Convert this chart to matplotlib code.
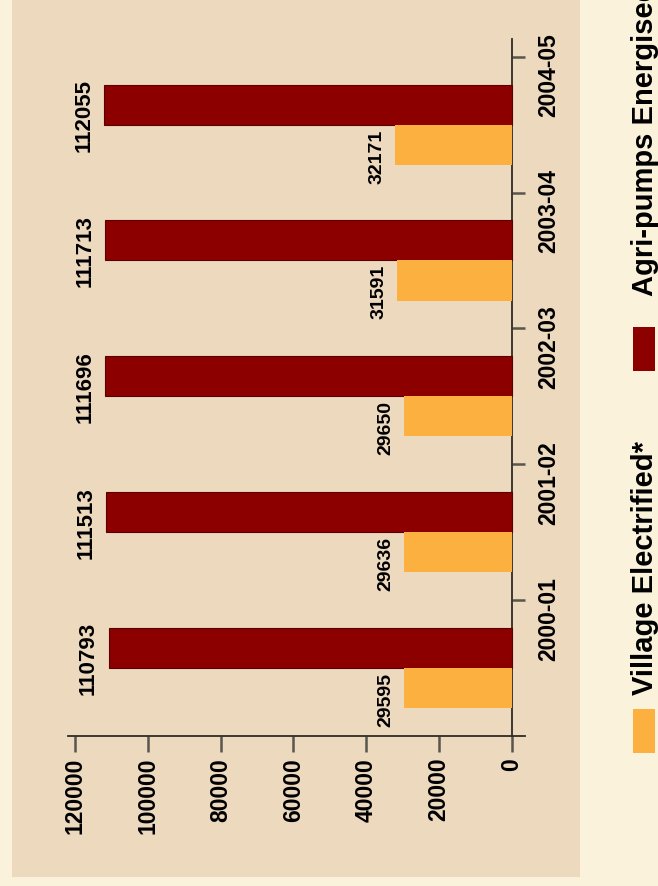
import matplotlib

matplotlib.use("Agg")
import matplotlib.pyplot as plt
import numpy as np
from matplotlib.patches import Rectangle
from matplotlib.ticker import FixedLocator, NullFormatter, FixedFormatter

plt.rcParams["font.family"] = ["Liberation Sans", "DejaVu Sans"]
plt.rcParams["font.weight"] = "bold"

# data
years = ["2000-01", "2001-02", "2002-03", "2003-04", "2004-05"]
village_electrified = [29595, 29636, 29650, 31591, 32171]
agri_pumps = [110793, 111513, 111696, 111713, 112055]
value_ticks = [0, 20000, 40000, 60000, 80000, 100000, 120000]
series_names = ["Village Electrified*", "Agri-pumps Energised"]

RED = "#8c0000"
YELLOW = "#fbb040"
PANEL = "#edd9be"
OUTER = "#fbf2dc"
AXIS = "#2e2a25"

W, H = 658, 887


def fx(px):
    return px / W


def fy(py):
    # pixel row (from top) -> figure fraction
    return (H - py) / H


fig = plt.figure(figsize=(W / 100, H / 100), dpi=100)
fig.patch.set_facecolor(OUTER)

# panel behind the chart
fig.add_artist(
    Rectangle((fx(12), fy(878)), fx(568), 878 / H, transform=fig.transFigure,
              facecolor=PANEL, edgecolor="none", zorder=0)
)

ax = fig.add_axes([fx(68), fy(737), fx(457), 697 / H])
ax.set_facecolor("none")

pos = np.arange(len(years))
bh = 0.295
ax.barh(pos + bh / 2, agri_pumps, height=bh, color=RED,
        edgecolor="#5a0000", linewidth=0.8, zorder=3)
ax.barh(pos - bh / 2, village_electrified, height=bh, color=YELLOW,
        edgecolor="none", zorder=3)

ax.set_xlim(121922, -3570)
ax.set_ylim(-0.5, 4.63)

# value labels
for y, v in zip(pos, agri_pumps):
    ax.annotate(f"{v}", xy=(v, y + bh / 2 - 0.07), xytext=(-7, 0),
                textcoords="offset points", rotation=90, ha="right",
                va="center", fontsize=16, fontweight="bold", color="black")
for y, v in zip(pos, village_electrified):
    ax.annotate(f"{v}", xy=(v, y - bh / 2 - 0.08), xytext=(-7, 0),
                textcoords="offset points", rotation=90, ha="right",
                va="center", fontsize=14, fontweight="bold", color="black")

# axes lines
for s in ("top", "left"):
    ax.spines[s].set_visible(False)
ax.spines["right"].set_position(("data", 0))
for s in ("right", "bottom"):
    ax.spines[s].set_color(AXIS)
    ax.spines[s].set_linewidth(1.3)

# value axis (bottom)
ax.xaxis.set_major_locator(FixedLocator(value_ticks))
ax.set_xticklabels([str(v) for v in value_ticks], rotation=90,
                   fontsize=16.5, fontweight="bold")
ax.tick_params(axis="x", direction="out", length=11.5, width=1.8,
               color="#5a554e", pad=3.5)
for t in ax.get_xticklabels():
    t.set_va("top")
    t.set_ha("center")

# category axis (right side): ticks between groups, labels offset
ax.yaxis.set_ticks_position("right")
ax.yaxis.set_major_locator(FixedLocator(list(pos + 0.5)))
ax.yaxis.set_major_formatter(NullFormatter())
ax.yaxis.set_minor_locator(FixedLocator(list(pos + 0.37)))
ax.yaxis.set_minor_formatter(FixedFormatter(years))
ax.tick_params(axis="y", which="major", direction="out", length=9.5,
               width=1.8, color="#5a554e")
ax.tick_params(axis="y", which="minor", length=0, pad=18, labelsize=16.5)
for t in ax.get_yticklabels(minor=True):
    t.set_rotation(90)
    t.set_va("center")
    t.set_ha("left")
    t.set_fontweight("bold")

# legend, drawn rotated like the rest of the chart
legend_items = [
    (series_names[0], YELLOW, 710, 695),
    (series_names[1], RED, 328, 296),
]
for name, col, sq_top, txt_bottom in legend_items:
    fig.add_artist(
        Rectangle((fx(633), fy(sq_top + 44)), fx(22), 44 / H,
                  transform=fig.transFigure, facecolor=col,
                  edgecolor="none", zorder=2)
    )
    fig.text(fx(645), fy(txt_bottom), name, rotation=90, ha="center",
             va="bottom", fontsize=21, fontweight="bold", color="black")

fig.savefig("out.png", dpi=100, facecolor=fig.get_facecolor())
